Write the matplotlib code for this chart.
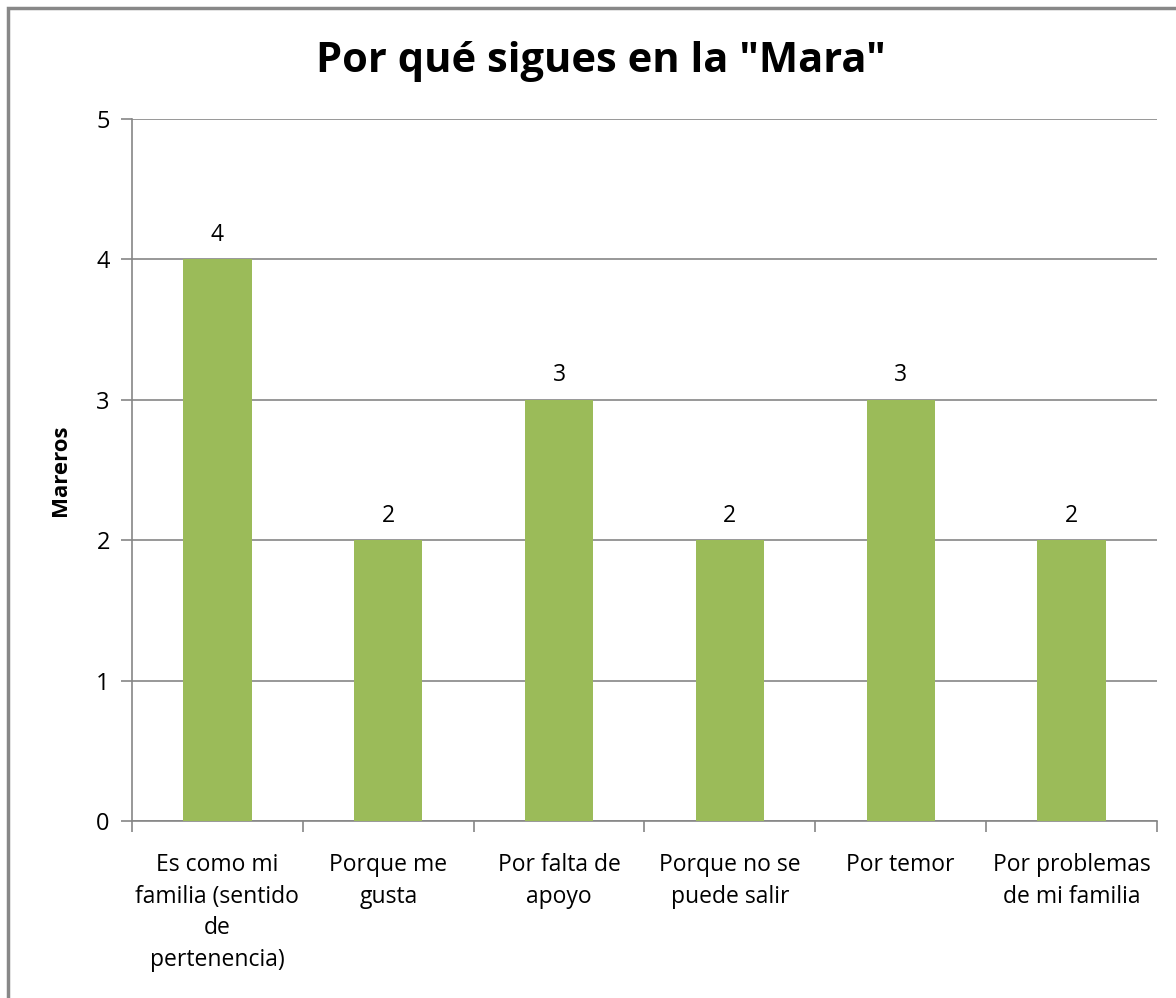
import matplotlib.pyplot as plt
from matplotlib.patches import Rectangle

categories = ["Es como mi\nfamilia (sentido\nde\npertenencia)", "Porque me\ngusta",
              "Por falta de\napoyo", "Porque no se\npuede salir", "Por temor",
              "Por problemas\nde mi familia"]
values = [4, 2, 3, 2, 3, 2]

plt.rcParams['font.family'] = ['Open Sans', 'DejaVu Sans']

fig = plt.figure(figsize=(11.76, 9.98), dpi=100)
ax = fig.add_axes([132 / 1176, 1 - 821 / 998, (1157 - 132) / 1176, (821 - 119) / 998])

# outer chart border
fig.patches.append(Rectangle((8 / 1176, -0.1), 1.2, 1 - 8 / 998 + 0.1, transform=fig.transFigure,
                             fill=False, edgecolor='#888888', linewidth=2.5))

x = list(range(len(categories)))
bars = ax.bar(x, values, width=0.4, color='#9BBB59', zorder=3)
for b, v in zip(bars, values):
    ax.text(b.get_x() + b.get_width() / 2, v + 0.09, str(v), ha='center', va='bottom', fontsize=16.5)

ax.set_xlim(-0.5, len(categories) - 0.5)
ax.set_ylim(0, 5)
ax.set_yticks(range(6))
ax.yaxis.grid(True, color='#868686', linewidth=1.2, zorder=0)
ax.set_xticks(x)
ax.set_xticklabels(categories, fontsize=16.5, linespacing=1.42)
ax.set_xticks([i - 0.5 for i in range(len(categories) + 1)], minor=True)
ax.tick_params(axis='x', which='major', length=0, pad=23)
ax.tick_params(axis='x', which='minor', length=8, color='#868686', width=1.2)
ax.tick_params(axis='y', length=8, color='#868686', width=1.2, labelsize=17, pad=8)
for s in ['top', 'right']:
    ax.spines[s].set_visible(False)
for s in ['left', 'bottom']:
    ax.spines[s].set_color('#868686')
    ax.spines[s].set_linewidth(1.2)

ax.set_ylabel("Mareros", fontsize=16, fontweight='bold', labelpad=18)
fig.text(0.5 + 13 / 1176, 1 - 62 / 998, 'Por qué sigues en la "Mara"', ha='center', va='center',
         fontsize=30, fontweight='bold')

fig.savefig("out.png", dpi=100)
